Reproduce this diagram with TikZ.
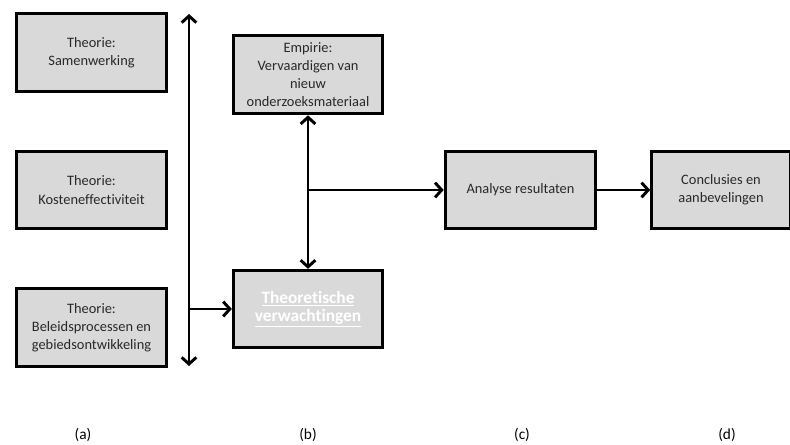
\documentclass[tikz,border=0pt]{standalone}
\usepackage{fontspec}
\setmainfont[Ligatures=NoCommon]{Carlito}
\usetikzlibrary{arrows.meta}
\definecolor{boxgray}{RGB}{217,217,217}
\definecolor{txtgray}{RGB}{40,40,40}
\begin{document}
\begin{tikzpicture}[x=0.75pt, y=-0.75pt,
    >={Straight Barb[length=5pt, width=11pt]},
    stage/.style={rectangle, draw, fill=boxgray, line width=2.2pt, align=center,
      text=txtgray, font=\fontsize{10.8}{13.6}\selectfont},
    flow/.style={line width=2.2pt}]
  \useasboundingbox (0,0) rectangle (790,445);
  % Nodes
  \node (sam) [stage, minimum width=113pt, minimum height=58pt] at (91.5, 52.5) {Theorie:\\Samenwerking};
  \node (kos) [stage, minimum width=113pt, minimum height=58pt] at (91.5, 190) {Theorie:\\Kosteneffectiviteit};
  \node (bel) [stage, minimum width=113pt, minimum height=58pt] at (91.5, 327.5) {Theorie:\\Beleidsprocessen en\\gebiedsontwikkeling};
  \node (emp) [stage, minimum width=112pt, minimum height=59pt, inner sep=1pt] at (308, 74.5) {Empirie:\\Vervaardigen van\\nieuw\\onderzoeksmateriaal};
  \node (theo) [stage, minimum width=112pt, minimum height=58pt] at (308, 309)
    {\fontsize{13}{17.5}\selectfont\bfseries\color{white}\underline{Theoretische}\\
     \fontsize{13}{17.5}\selectfont\bfseries\color{white}\underline{verwachtingen}};
  \node (ana) [stage, minimum width=113pt, minimum height=58pt] at (520.5, 190) {Analyse resultaten};
  \node (con) [stage, minimum width=104pt, minimum height=58pt] at (721, 190) {Conclusies en\\aanbevelingen};
  % Coordinates
  \coordinate (top) at (189, 14);
  \coordinate (bot) at (189, 366);
  \coordinate (join) at (top |- theo.west);
  \coordinate (split) at (theo.north |- ana.west);
  % Arrow
  \draw[flow, <->] (top) to[] (bot);
  \draw[flow, ->] (join) to[] (theo.west);
  \draw[flow, <->] (emp.south) to[] (theo.north);
  \draw[flow, ->] (split) to[] (ana.west);
  \draw[flow, ->] (ana) to[] (con);
  % Labels
  \node (la) [font=\fontsize{11.5}{13}\selectfont] at (83, 435) {(a)};
  \node (lb) [font=\fontsize{11.5}{13}\selectfont] at (308, 435) {(b)};
  \node (lc) [font=\fontsize{11.5}{13}\selectfont] at (522, 435) {(c)};
  \node (ld) [font=\fontsize{11.5}{13}\selectfont] at (727, 435) {(d)};
\end{tikzpicture}
\end{document}
